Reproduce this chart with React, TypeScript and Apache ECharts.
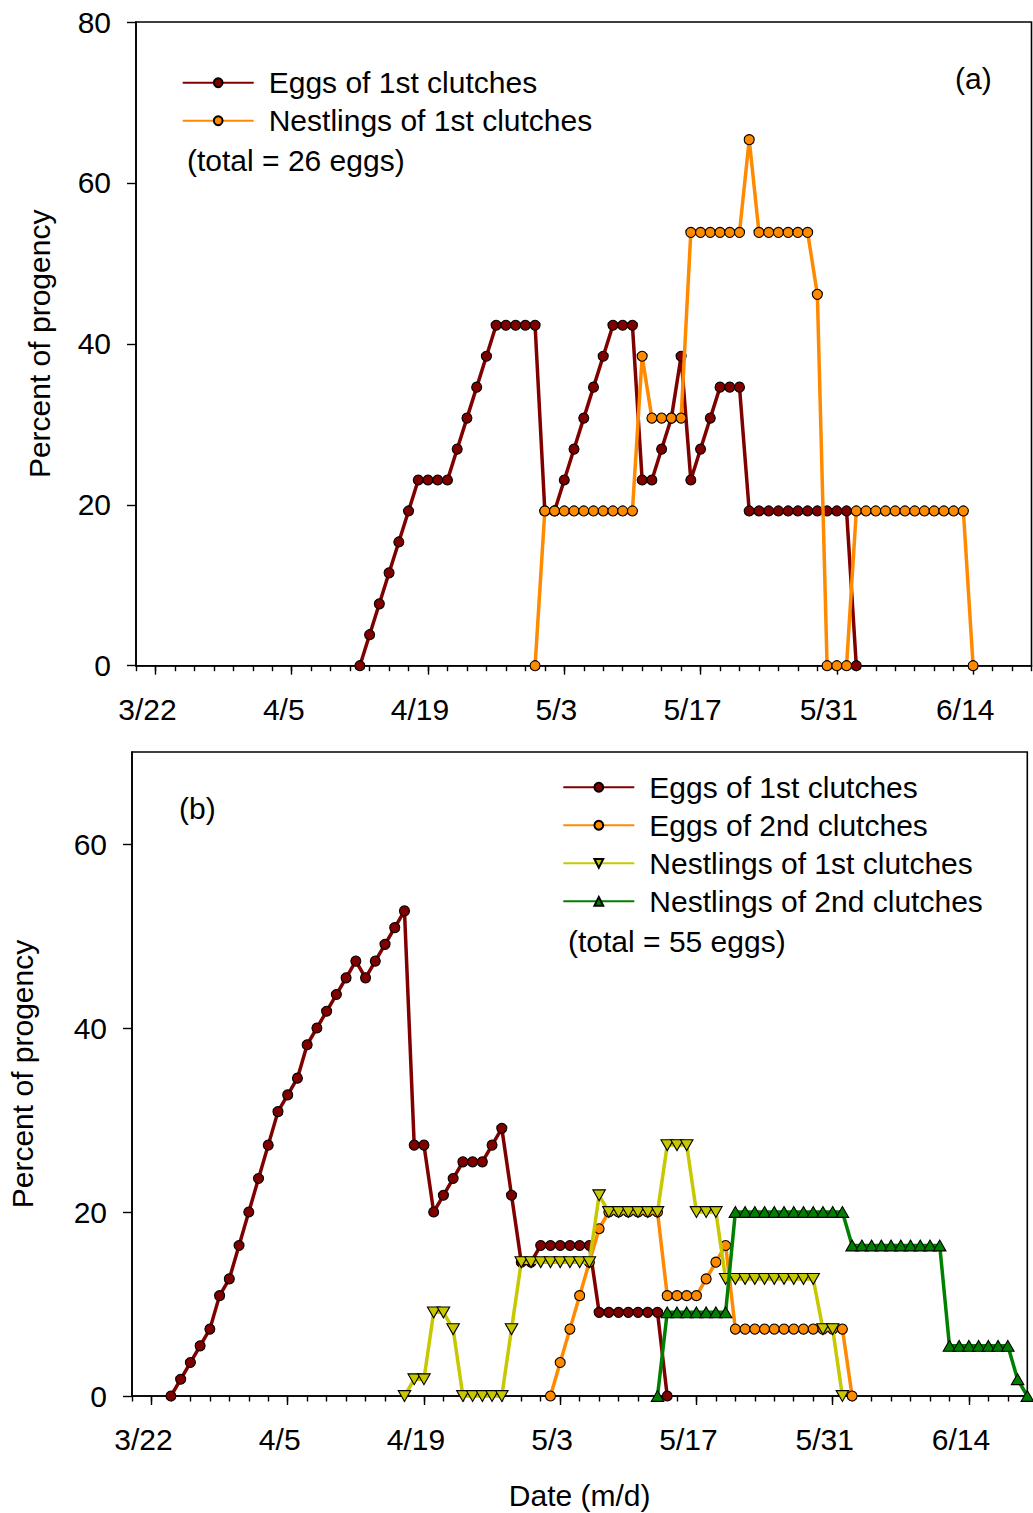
import React, { useEffect, useRef } from "react";
import * as echarts from "echarts";

// ---------- data ----------
const tickLabels = ["3/22", "4/5", "4/19", "5/3", "5/17", "5/31", "6/14"];
const axisStart = "3/20";
const axisEnd = "6/20";
const yTicksA = [0, 20, 40, 60, 80];
const yTicksB = [0, 20, 40, 60];

// Panel (a): total = 26 eggs, daily values (percent of progeny)
const aEggs1Start = "4/12";
const aEggs1 = [
  0, 3.85, 7.69, 11.54, 15.38, 19.23, 23.08, 23.08, 23.08, 23.08,
  26.92, 30.77, 34.62, 38.46, 42.31, 42.31, 42.31, 42.31, 42.31, 19.23,
  19.23, 23.08, 26.92, 30.77, 34.62, 38.46, 42.31, 42.31, 42.31, 23.08,
  23.08, 26.92, 30.77, 38.46, 23.08, 26.92, 30.77, 34.62, 34.62, 34.62,
  19.23, 19.23, 19.23, 19.23, 19.23, 19.23, 19.23, 19.23, 19.23, 19.23,
  19.23, 0,
];
const aNest1Start = "4/30";
const aNest1 = [
  0, 19.23, 19.23, 19.23, 19.23, 19.23, 19.23, 19.23, 19.23, 19.23,
  19.23, 38.46, 30.77, 30.77, 30.77, 30.77, 53.85, 53.85, 53.85, 53.85,
  53.85, 53.85, 65.38, 53.85, 53.85, 53.85, 53.85, 53.85, 53.85, 46.15,
  0, 0, 0, 19.23, 19.23, 19.23, 19.23, 19.23, 19.23, 19.23,
  19.23, 19.23, 19.23, 19.23, 19.23, 0,
];

// Panel (b): total = 55 eggs
const bEggs1Start = "3/24";
const bEggs1 = [
  0, 1.82, 3.64, 5.45, 7.27, 10.91, 12.73, 16.36, 20.0, 23.64,
  27.27, 30.91, 32.73, 34.55, 38.18, 40.0, 41.82, 43.64, 45.45, 47.27,
  45.45, 47.27, 49.09, 50.91, 52.73, 27.27, 27.27, 20.0, 21.82, 23.64,
  25.45, 25.45, 25.45, 27.27, 29.09, 21.82, 14.55, 14.55, 16.36, 16.36,
  16.36, 16.36, 16.36, 16.36, 9.09, 9.09, 9.09, 9.09, 9.09, 9.09,
  9.09, 0,
];
const bEggs2Start = "5/2";
const bEggs2 = [
  0, 3.64, 7.27, 10.91, 14.55, 18.18, 20.0, 20.0, 20.0, 20.0,
  20.0, 20.0, 10.91, 10.91, 10.91, 10.91, 12.73, 14.55, 16.36, 7.27,
  7.27, 7.27, 7.27, 7.27, 7.27, 7.27, 7.27, 7.27, 7.27, 7.27,
  7.27, 0,
];
const bNest1Start = "4/17";
const bNest1 = [
  0, 1.82, 1.82, 9.09, 9.09, 7.27, 0, 0, 0, 0,
  0, 7.27, 14.55, 14.55, 14.55, 14.55, 14.55, 14.55, 14.55, 14.55,
  21.82, 20.0, 20.0, 20.0, 20.0, 20.0, 20.0, 27.27, 27.27, 27.27,
  20.0, 20.0, 20.0, 12.73, 12.73, 12.73, 12.73, 12.73, 12.73, 12.73,
  12.73, 12.73, 12.73, 7.27, 7.27, 0,
];
const bNest2Start = "5/13";
const bNest2 = [
  0, 9.09, 9.09, 9.09, 9.09, 9.09, 9.09, 9.09, 20.0, 20.0,
  20.0, 20.0, 20.0, 20.0, 20.0, 20.0, 20.0, 20.0, 20.0, 20.0,
  16.36, 16.36, 16.36, 16.36, 16.36, 16.36, 16.36, 16.36, 16.36, 16.36,
  5.45, 5.45, 5.45, 5.45, 5.45, 5.45, 5.45, 1.82, 0,
];

const NAME_E1 = "Eggs of 1st clutches";
const NAME_E2 = "Eggs of 2nd clutches";
const NAME_N1 = "Nestlings of 1st clutches";
const NAME_N2 = "Nestlings of 2nd clutches";

// ---------- helpers ----------
const dayOf = (md: string): number => {
  const [m0, d0] = tickLabels[0].split("/").map(Number);
  const [m, d] = md.split("/").map(Number);
  return Math.round((Date.UTC(2001, m - 1, d) - Date.UTC(2001, m0 - 1, d0)) / 86400000);
};
const toPairs = (start: string, values: number[]) => {
  const s = dayOf(start);
  return values.map((v, i) => [s + i, v]);
};

const FONT = "'Liberation Sans', Arial, Helvetica, sans-serif";
const FS = 30;
const BLACK = "#000";
const C_E1 = "#800000";
const C_E2 = "#ff8a00";
const C_N1 = "#c8c800";
const C_N2 = "#008000";
const SYM_DOWN = "path://M0,0 L10,0 L5,8.66 Z";
const SYM_UP = "path://M5,0 L10,8.66 L0,8.66 Z";
const LABEL_SHIFT = 0.82;

const textBase = { fontSize: FS, fontFamily: FONT, color: BLACK };

function xAxes(gridIndex: number, name?: string) {
  const ticks = tickLabels.map(dayOf);
  const min = dayOf(axisStart);
  const max = dayOf(axisEnd);
  return [
    {
      type: "value",
      gridIndex,
      min,
      max,
      position: "bottom",
      axisLine: { show: true, onZero: false, lineStyle: { color: BLACK, width: 1.6 } },
      axisTick: { show: true, inside: false, length: 9, customValues: ticks, lineStyle: { color: BLACK, width: 1.4 } },
      axisLabel: {
        show: true,
        customValues: ticks.map((t) => t - LABEL_SHIFT),
        formatter: (v: number) => {
          const i = ticks.findIndex((t) => Math.abs(t - LABEL_SHIFT - v) < 0.01);
          return i >= 0 ? tickLabels[i] : "";
        },
        margin: 28.5,
        ...textBase,
      },
      splitLine: { show: false },
      ...(name
        ? {
            name,
            nameLocation: "middle",
            nameGap: 99,
            nameTextStyle: { ...textBase, verticalAlign: "middle", align: "center" },
          }
        : {}),
    },
    {
      type: "value",
      gridIndex,
      min,
      max,
      interval: 2,
      position: "bottom",
      axisLine: { show: false },
      axisTick: { show: true, inside: false, length: 5.5, lineStyle: { color: BLACK, width: 1.4 } },
      axisLabel: { show: false },
      splitLine: { show: false },
    },
  ];
}

function yAxis(gridIndex: number, max: number, ticks: number[], nameGap: number) {
  return {
    type: "value",
    gridIndex,
    min: 0,
    max,
    axisLine: { show: true, onZero: false, lineStyle: { color: BLACK, width: 1.6 } },
    axisTick: { show: true, inside: false, length: 9, customValues: ticks, lineStyle: { color: BLACK, width: 1.4 } },
    axisLabel: { show: true, customValues: ticks, margin: 25, ...textBase },
    splitLine: { show: false },
    name: "Percent of progency",
    nameLocation: "middle",
    nameRotate: 90,
    nameGap,
    nameTextStyle: { ...textBase, verticalAlign: "middle", align: "center" },
  };
}

function lineSeries(
  name: string,
  start: string,
  values: number[],
  color: string,
  symbol: string,
  size: number,
  xi: number,
  yi: number,
  z: number
) {
  return {
    type: "line",
    name,
    xAxisIndex: xi,
    yAxisIndex: yi,
    data: toPairs(start, values),
    symbol,
    symbolSize: size,
    symbolKeepAspect: true,
    showSymbol: true,
    showAllSymbol: true,
    clip: false,
    z,
    lineStyle: { color, width: 3.5 },
    itemStyle: { color, borderColor: BLACK, borderWidth: 1.1, opacity: 1 },
    emphasis: { disabled: true },
  };
}

const legendBase = {
  orient: "vertical",
  itemWidth: 71,
  itemHeight: 11,
  itemGap: 8,
  padding: 0,
  selectedMode: false,
  formatter: (n: string) => n.slice(2),
  textStyle: { ...textBase, lineHeight: 30, padding: [0, 0, 0, 10] },
};

export default function App() {
  const ref = useRef<HTMLDivElement>(null);
  useEffect(() => {
    if (!ref.current) return;
    const chart = echarts.init(ref.current, undefined, { renderer: "svg" });
    const option: any = {
      animation: false,
      backgroundColor: "#fff",
      grid: [
        { left: 136, top: 22, width: 895.5, height: 643.7, show: true, borderColor: BLACK, borderWidth: 1.6, containLabel: false, outerBoundsMode: "none" },
        { left: 132, top: 752, width: 895.3, height: 644, show: true, borderColor: BLACK, borderWidth: 1.6, containLabel: false, outerBoundsMode: "none" },
      ],
      xAxis: [...xAxes(0), ...xAxes(1, "Date (m/d)")],
      yAxis: [yAxis(0, 80, yTicksA, 96.7), yAxis(1, 70, yTicksB, 110)],
      legend: [
        { ...legendBase, left: 181.7, top: 67.7, data: ["A:" + NAME_E1, "A:" + NAME_N1] },
        { ...legendBase, left: 562.3, top: 772.3, data: ["B:" + NAME_E1, "B:" + NAME_E2, "B:" + NAME_N1, "B:" + NAME_N2] },
      ],
      graphic: [
        { type: "text", left: 955, top: 63.5, style: { text: "(a)", font: `${FS}px ${FONT}`, fill: BLACK } },
        { type: "text", left: 187, top: 145, style: { text: "(total = 26 eggs)", font: `${FS}px ${FONT}`, fill: BLACK } },
        { type: "text", left: 179, top: 793, style: { text: "(b)", font: `${FS}px ${FONT}`, fill: BLACK } },
        { type: "text", left: 568, top: 926, style: { text: "(total = 55 eggs)", font: `${FS}px ${FONT}`, fill: BLACK } },
      ],
      series: [
        lineSeries("A:" + NAME_E1, aEggs1Start, aEggs1, C_E1, "circle", 10, 0, 0, 2),
        lineSeries("A:" + NAME_N1, aNest1Start, aNest1, C_E2, "circle", 10, 0, 0, 3),
        lineSeries("B:" + NAME_E1, bEggs1Start, bEggs1, C_E1, "circle", 10, 2, 1, 2),
        lineSeries("B:" + NAME_E2, bEggs2Start, bEggs2, C_E2, "circle", 10, 2, 1, 3),
        lineSeries("B:" + NAME_N1, bNest1Start, bNest1, C_N1, SYM_DOWN, 12.5, 2, 1, 4),
        lineSeries("B:" + NAME_N2, bNest2Start, bNest2, C_N2, SYM_UP, 12.5, 2, 1, 5),
      ],
    };
    chart.setOption(option);
    return () => chart.dispose();
  }, []);
  return (
    <div
      ref={ref}
      style={{ position: "absolute", left: 0, top: 0, width: 1033, height: 1513, background: "#fff" }}
    />
  );
}
